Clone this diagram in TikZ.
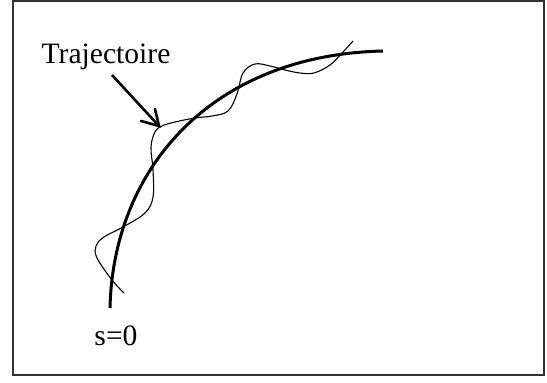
\documentclass[tikz,border=0pt]{standalone}
\usepackage{fontspec}
\setmainfont{Liberation Serif}
\usetikzlibrary{calc}
\tikzset{
  framebox/.style={draw=black!80, line width=1.5pt},
  thickpath/.style={line width=3pt, line cap=butt},
  thinpath/.style={line width=1.1pt},
  pointer/.style={line width=2.6pt, line cap=butt},
  barb/.style={line width=2.6pt, line cap=round, line join=miter},
  lbl/.style={inner sep=0pt, anchor=base, font=\fontsize{29.6}{34}\selectfont}
}
\begin{document}
\begin{tikzpicture}[x=1pt,y=-1pt]
\useasboundingbox (0,0) rectangle (547,383);
\draw[framebox] (13,0.8) rectangle (544,375);
\draw[thickpath] (110,308) .. controls (113,170) and (210,55) .. (383,51);
\draw[thinpath] plot[smooth, tension=0.6] coordinates {(124,293) (112,280) (97,258) (96,246) (104,237) (123,227) (145,213) (153,197) (153,170) (151,147) (155,132) (162,126) (175,122) (195,118) (212,116) (228,111) (237,94) (243,73) (255,64) (270,66) (285,70) (300,73) (314,73) (330,65) (343,52) (353,41)};
\node[lbl] (traj) at (106,63) {Trajectoire};
\node[lbl] (s0) at (116,345) {s=0};
\coordinate (a0) at (112,75);
\coordinate (a1) at (159,126);
\draw[pointer] (a0) -- (a1);
\draw[barb] ($(a1)+(-18,-5)$) -- (a1) -- ($(a1)+(-4,-17)$);
\end{tikzpicture}
\end{document}
